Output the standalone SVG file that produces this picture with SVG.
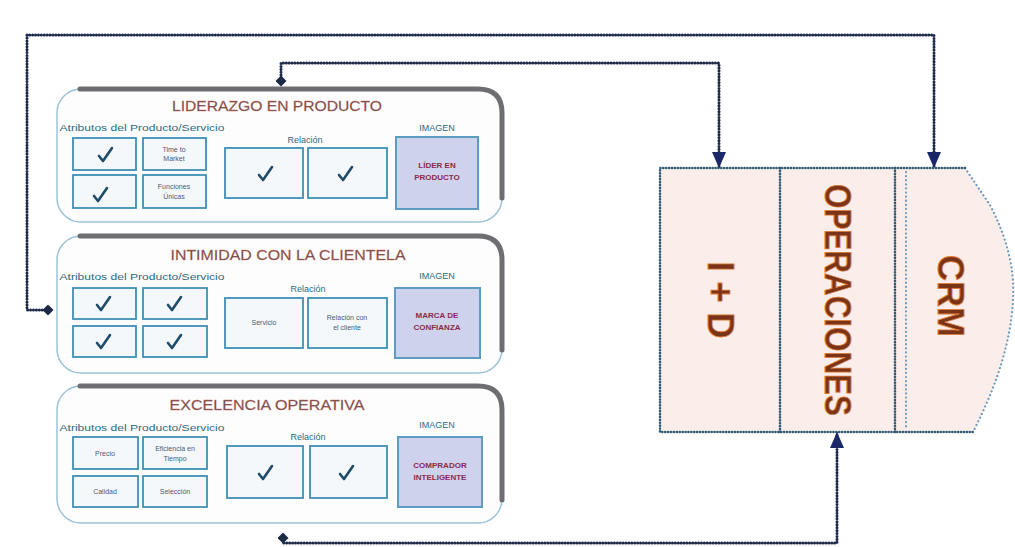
<svg xmlns="http://www.w3.org/2000/svg" width="1015" height="547" viewBox="0 0 1015 547">
<defs>
<style>
.panelbg{fill:#fdfdfe;stroke:#9cc3d8;stroke-width:1.5}
.shade{fill:none;stroke:#6e6e72;stroke-width:5;stroke-linecap:round}
.title{font-family:"Liberation Sans",sans-serif;font-size:15px;fill:#5b4648;stroke:#e07a6a;stroke-width:0.3;text-anchor:middle}
.lbl{font-family:"Liberation Sans",sans-serif;font-size:9px;fill:#2a6a80;text-anchor:middle}
.box{fill:#f4f8fb;stroke:#3f8fb5;stroke-width:1.8}
.img{fill:#cfd2ec;stroke:#5d9cc0;stroke-width:2}
.small{font-family:"Liberation Sans",sans-serif;font-size:7px;fill:#4a5a7a;text-anchor:middle}
.imgt{font-family:"Liberation Sans",sans-serif;font-size:8px;font-weight:bold;fill:#8a2a4a;text-anchor:middle}
.chk{fill:none;stroke:#1f4c6a;stroke-width:2.6;stroke-linecap:round;stroke-linejoin:round}
.conn{fill:none;stroke:#1c2a48;stroke-width:3;stroke-dasharray:0.1 2.8;stroke-linecap:round}
.blk{fill:#fbede9}
.dot{fill:none;stroke:#2f5a78;stroke-width:2.6;stroke-dasharray:0.1 2.8;stroke-linecap:round}
.dotl{fill:none;stroke:#6a9cc0;stroke-width:2.2;stroke-dasharray:0.1 4;stroke-linecap:round}
.big{font-family:"Liberation Sans",sans-serif;font-size:36px;font-weight:bold;fill:#7a3418;stroke:#e0803a;stroke-width:0.8;text-anchor:middle}
</style>
<marker id="arr" viewBox="0 0 16 14" refX="16" refY="7" markerWidth="16" markerHeight="14" markerUnits="userSpaceOnUse" orient="auto">
<path d="M0,0 L16,7 L0,14 z" fill="#1a2868"/>
</marker>
<marker id="dia" viewBox="0 0 12 12" refX="6" refY="6" markerWidth="11" markerHeight="11" markerUnits="userSpaceOnUse" orient="auto">
<path d="M6,0 L12,6 L6,12 L0,6 z" fill="#1c2a48"/>
</marker>
<path id="ck" d="M-6,1 L-2,6 L7,-7"/>
</defs>
<rect width="1015" height="547" fill="#ffffff"/>

<g id="connectors">
<path class="conn" d="M48,310 H27 V35 H934 V168" marker-start="url(#dia)" marker-end="url(#arr)"/>
<path class="conn" d="M281,81 V63 H719 V168" marker-start="url(#dia)" marker-end="url(#arr)"/>
<path class="conn" d="M283,538 V543 H837 V432" marker-start="url(#dia)" marker-end="url(#arr)"/>
</g>

<g id="panel-liderazgo">
<rect class="panelbg" x="57" y="89" width="445" height="133" rx="24"/>
<path class="shade" d="M80,89 H478 Q502,89 502,113 V198"/>
<text class="title" x="277" y="111" textLength="210" lengthAdjust="spacingAndGlyphs">LIDERAZGO EN PRODUCTO</text>
<text class="lbl" x="142" y="131" textLength="165" lengthAdjust="spacingAndGlyphs">Atributos del Producto/Servicio</text>
<rect class="box" x="73" y="138" width="63" height="32"/>
<use href="#ck" class="chk" x="105" y="155"/>
<rect class="box" x="143" y="138" width="63" height="32"/>
<text class="small" x="174" y="152">Time to</text>
<text class="small" x="174" y="161">Market</text>
<rect class="box" x="73" y="175" width="63" height="33"/>
<use href="#ck" class="chk" x="100" y="195"/>
<rect class="box" x="143" y="175" width="63" height="33"/>
<text class="small" x="174" y="189">Funciones</text>
<text class="small" x="174" y="199">Únicas</text>
<text class="lbl" x="305" y="143">Relación</text>
<rect class="box" x="225" y="148" width="78" height="50"/>
<use href="#ck" class="chk" x="265" y="174"/>
<rect class="box" x="308" y="148" width="79" height="50"/>
<use href="#ck" class="chk" x="345" y="174"/>
<text class="lbl" x="437" y="131">IMAGEN</text>
<rect class="img" x="396" y="137" width="82" height="72"/>
<text class="imgt" x="437" y="168">LÍDER EN</text>
<text class="imgt" x="437" y="180">PRODUCTO</text>
</g>

<g id="panel-intimidad">
<rect class="panelbg" x="57" y="236" width="445" height="137" rx="24"/>
<path class="shade" d="M80,236 H478 Q502,236 502,260 V350"/>
<text class="title" x="288" y="260" textLength="235" lengthAdjust="spacingAndGlyphs">INTIMIDAD CON LA CLIENTELA</text>
<text class="lbl" x="142" y="280" textLength="165" lengthAdjust="spacingAndGlyphs">Atributos del Producto/Servicio</text>
<rect class="box" x="73" y="288" width="63" height="31"/>
<use href="#ck" class="chk" x="103" y="304"/>
<rect class="box" x="143" y="288" width="64" height="31"/>
<use href="#ck" class="chk" x="174" y="304"/>
<rect class="box" x="73" y="326" width="63" height="31"/>
<use href="#ck" class="chk" x="103" y="342"/>
<rect class="box" x="143" y="326" width="64" height="31"/>
<use href="#ck" class="chk" x="174" y="342"/>
<text class="lbl" x="308" y="292">Relación</text>
<rect class="box" x="225" y="298" width="78" height="50"/>
<text class="small" x="264" y="325">Servicio</text>
<rect class="box" x="308" y="298" width="79" height="50"/>
<text class="small" x="347" y="320">Relación con</text>
<text class="small" x="347" y="330">el cliente</text>
<text class="lbl" x="437" y="279">IMAGEN</text>
<rect class="img" x="395" y="288" width="85" height="70"/>
<text class="imgt" x="437" y="318">MARCA DE</text>
<text class="imgt" x="437" y="330">CONFIANZA</text>
</g>

<g id="panel-excelencia">
<rect class="panelbg" x="57" y="386" width="445" height="137" rx="24"/>
<path class="shade" d="M80,386 H478 Q502,386 502,410 V500"/>
<text class="title" x="267" y="410" textLength="195" lengthAdjust="spacingAndGlyphs">EXCELENCIA OPERATIVA</text>
<text class="lbl" x="142" y="431" textLength="165" lengthAdjust="spacingAndGlyphs">Atributos del Producto/Servicio</text>
<rect class="box" x="73" y="437" width="65" height="32"/>
<text class="small" x="105" y="456">Precio</text>
<rect class="box" x="143" y="437" width="64" height="32"/>
<text class="small" x="175" y="451">Eficiencia en</text>
<text class="small" x="175" y="461">Tiempo</text>
<rect class="box" x="73" y="476" width="65" height="31"/>
<text class="small" x="105" y="494">Calidad</text>
<rect class="box" x="143" y="476" width="64" height="31"/>
<text class="small" x="175" y="494">Selección</text>
<text class="lbl" x="308" y="440">Relación</text>
<rect class="box" x="227" y="446" width="76" height="52"/>
<use href="#ck" class="chk" x="265" y="473"/>
<rect class="box" x="310" y="446" width="77" height="52"/>
<use href="#ck" class="chk" x="346" y="473"/>
<text class="lbl" x="437" y="428">IMAGEN</text>
<rect class="img" x="398" y="437" width="84" height="70"/>
<text class="imgt" x="440" y="468">COMPRADOR</text>
<text class="imgt" x="440" y="480">INTELIGENTE</text>
</g>

<g id="block-procesos">
<path class="blk" d="M660,168 H965 L990,205 Q1016,255 1013,300 Q1010,360 973,432 H660 Z"/>
<path class="dotl" d="M965,168 L990,205 Q1016,255 1013,300 Q1010,360 973,432"/>
<path class="dot" d="M965,168 H660 V432 H973"/>
<path class="dot" d="M780,168 V432"/>
<path class="dot" d="M895,168 V432"/>
<path class="dotl" d="M906,172 V428"/>
</g>
<g id="node-id">
<text class="big" transform="translate(720,300) rotate(90)" y="12">I + D</text>
</g>
<g id="node-operaciones">
<text class="big" transform="translate(837,300) rotate(90)" y="12" textLength="232" lengthAdjust="spacingAndGlyphs">OPERACIONES</text>
</g>
<g id="node-crm">
<text class="big" transform="translate(950,296) rotate(90)" y="12">CRM</text>
</g>
</svg>
